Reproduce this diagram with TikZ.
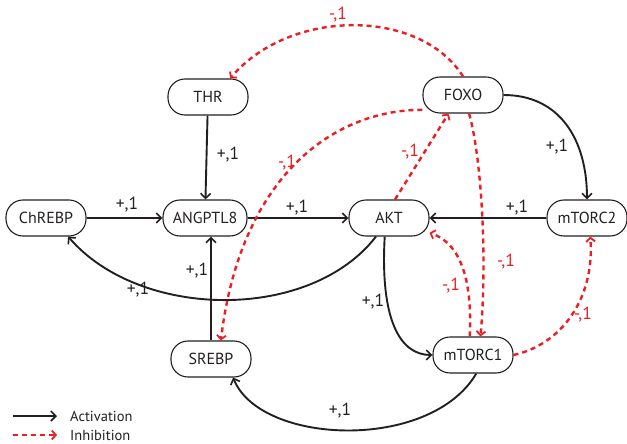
\documentclass[tikz,border=0pt]{standalone}
\usepackage{fontspec}
\setmainfont{PT Sans}
\usetikzlibrary{arrows.meta}
\definecolor{inhred}{RGB}{236,30,36}
\definecolor{ink}{RGB}{35,31,32}
\tikzset{
  gene/.style={draw=ink, line width=1.1pt, rounded corners=17pt, minimum width=80pt,
    minimum height=36pt, inner sep=0pt, font=\fontsize{16}{16}\selectfont, text=ink},
  act/.style={draw=ink, line width=1.9pt, -{Straight Barb[length=5pt,width=10pt,line width=1.6pt]}},
  inh/.style={draw=inhred, line width=2.4pt, dash pattern=on 5pt off 4pt,
    -{Straight Barb[length=4pt,width=9pt,line width=1.8pt]}},
  plbl/.style={font=\fontsize{17.5}{17.5}\selectfont, text=ink, inner sep=1pt},
  mlbl/.style={font=\fontsize{17.5}{17.5}\selectfont, text=inhred, inner sep=1pt},
  legtxt/.style={font=\fontsize{14.5}{14.5}\selectfont, text=ink, anchor=west, inner sep=0pt}
}
\begin{document}
\begin{tikzpicture}[x=1pt,y=-1pt]
\useasboundingbox (0,0) rectangle (627,444);

% species
\node[gene] (THR)     at (208,97)  {THR};
\node[gene] (FOXO)    at (463,95)  {FOXO};
\node[gene] (ChREBP)  at (46,218)  {ChREBP};
\node[gene, minimum width=84pt] (ANGPTL8) at (205,218) {ANGPTL8};
\node[gene] (AKT)     at (389,218) {AKT};
\node[gene] (mTORC2)  at (587,218) {mTORC2};
\node[gene] (SREBP)   at (211,359) {SREBP};
\node[gene] (mTORC1)  at (473,355) {mTORC1};

% activations
\draw[act] (THR) -- (ANGPTL8);
\draw[act] (ChREBP) -- (ANGPTL8);
\draw[act] (ANGPTL8) -- (AKT);
\draw[act] (mTORC2) -- (AKT);
\draw[act] (FOXO.east) .. controls (560,95) and (587,140) .. (mTORC2.north);
\draw[act] (AKT.235) .. controls (310,322) and (140,320) .. (ChREBP.-40);
\draw[act] (SREBP.north) -- (SREBP.north |- ANGPTL8.south);
\draw[act] (AKT.257) .. controls (380,320) and (400,355) .. (mTORC1.west);
\draw[act] (mTORC1.-80) .. controls (430,452) and (260,445) .. (SREBP.-40);

% inhibitions
\draw[inh] (FOXO.north) .. controls (420,8) and (290,8) .. (THR.40);
\draw[inh] (FOXO.200) .. controls (330,110) and (240,180) .. (SREBP.62);
\draw[inh] (AKT.72) -- (FOXO.232);
\draw[inh] (FOXO.-72) .. controls (480,150) and (488,250) .. (mTORC1.68);
\draw[inh] (mTORC1.100) .. controls (472,290) and (465,245) .. (AKT.-20);
\draw[inh] (mTORC1.east) .. controls (560,345) and (595,300) .. (mTORC2.-80);

% edge weights
\node[plbl] at (228,155) {+,1};
\node[plbl] at (127,205) {+,1};
\node[plbl] at (297,208) {+,1};
\node[plbl] at (517,208) {+,1};
\node[plbl] at (557,147) {+,1};
\node[plbl] at (138,290) {+,1};
\node[plbl] at (197,271) {+,1};
\node[plbl] at (373,302) {+,1};
\node[plbl] at (340,411) {+,1};
\node[mlbl] at (338,15)  {-,1};
\node[mlbl] at (287,163) {-,1};
\node[mlbl] at (410,152) {-,1};
\node[mlbl] at (506,262) {-,1};
\node[mlbl] at (451,286) {-,1};
\node[mlbl] at (583,315) {-,1};

% key
\coordinate (a0) at (13,416);
\coordinate (a1) at (57,416);
\coordinate (i0) at (13,435);
\coordinate (i1) at (57,435);
\draw[act] (a0) -- (a1);
\draw[inh] (i0) -- (i1);
\node[legtxt] (kact) at (70,416) {Activation};
\node[legtxt] (kinh) at (70,435) {Inhibition};
\end{tikzpicture}
\end{document}
